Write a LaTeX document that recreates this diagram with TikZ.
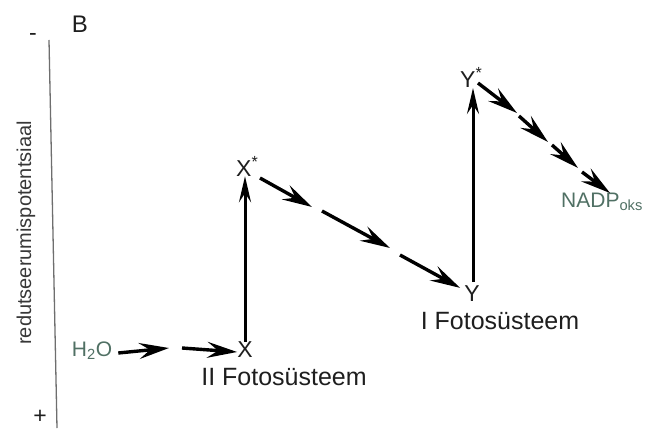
\documentclass[tikz,border=0pt]{standalone}
\usepackage{fontspec}
\setmainfont{Liberation Sans}
\usetikzlibrary{arrows.meta}
\definecolor{txt}{RGB}{30,30,30}
\definecolor{chem}{RGB}{80,112,100}
\definecolor{axis}{RGB}{110,110,110}
\begin{document}
\begin{tikzpicture}[x=1pt,y=-1pt,
  lbl/.style={inner sep=0pt, font=\fontsize{23}{25}\selectfont, text=txt},
  big/.style={inner sep=0pt, font=\fontsize{25}{28}\selectfont, text=txt},
  chemlbl/.style={inner sep=0pt, font=\fontsize{21}{24}\selectfont, text=chem},
  arr/.style={line width=3.4pt, draw=black, -{Stealth[length=30pt,width=16pt,inset=11pt]}},
  varr/.style={line width=3pt, draw=black, -{Stealth[length=26pt,width=12pt,inset=9pt]}}
]
\useasboundingbox (0,0) rectangle (647,428);
% axis
\node[lbl, font=\fontsize{24}{26}\selectfont] (B) at (80,24) {B};
\node[lbl] (minus) at (33,37) {-};
\node[lbl] (plus) at (40,417) {+};
\coordinate (axtop) at (49,40);
\coordinate (axbot) at (57,428);
\draw[axis, line width=1.3pt] (axtop) -- (axbot);
\node[inner sep=0pt, rotate=90, font=\fontsize{20}{22}\selectfont, text=axis!50!black] (axlbl) at (26,233) {redutseerumispotentsiaal};
% nodes
\node[chemlbl] (h2o) at (92,351) {H\textsubscript{2}O};
\node[lbl] (x) at (245,350) {X};
\node[big] (ps2) at (284,377) {II Fotosüsteem};
\node[lbl, anchor=west] (xs) at (236,166) {X\textsuperscript{*}};
\node[lbl] (y) at (472,294) {Y};
\node[big] (ps1) at (500,321) {I Fotosüsteem};
\node[lbl, anchor=west] (ys) at (460,77) {Y\textsuperscript{*}};
\node[chemlbl, anchor=west] (nadp) at (561,202) {NADP\textsubscript{oks}};
% H2O -> X
\coordinate (h1) at (169,348);
\coordinate (h2) at (182,348);
\draw[arr] ([xshift=6pt,yshift=-2pt]h2o.east) -- (h1);
\draw[arr] (h2) -- ([yshift=-2pt]x.west);
% X -> X*
\draw[varr] (x.north) -- (x.north |- xs.south);
% X* -> Y
\coordinate (d1) at (312,207);
\coordinate (d2) at (322,211);
\coordinate (d3) at (390,248);
\coordinate (d4) at (400,255);
\draw[arr] (260,178) -- (d1);
\draw[arr] (d2) -- (d3);
\draw[arr] (d4) -- ([xshift=-4pt,yshift=-2pt]y.north west);
% Y -> Y*
\draw[varr] (473,282) -- (473,88);
% Y* -> NADP
\coordinate (n0) at (478,83);
\coordinate (n1) at (517,113);
\coordinate (n2) at (519,116);
\coordinate (n3) at (548,142);
\coordinate (n4) at (552,145);
\coordinate (n5) at (578,168);
\coordinate (n6) at (582,172);
\coordinate (n7) at (610,193);
\draw[arr] (n0) -- (n1);
\draw[arr] (n2) -- (n3);
\draw[arr] (n4) -- (n5);
\draw[arr] (n6) -- (n7);
\end{tikzpicture}
\end{document}
